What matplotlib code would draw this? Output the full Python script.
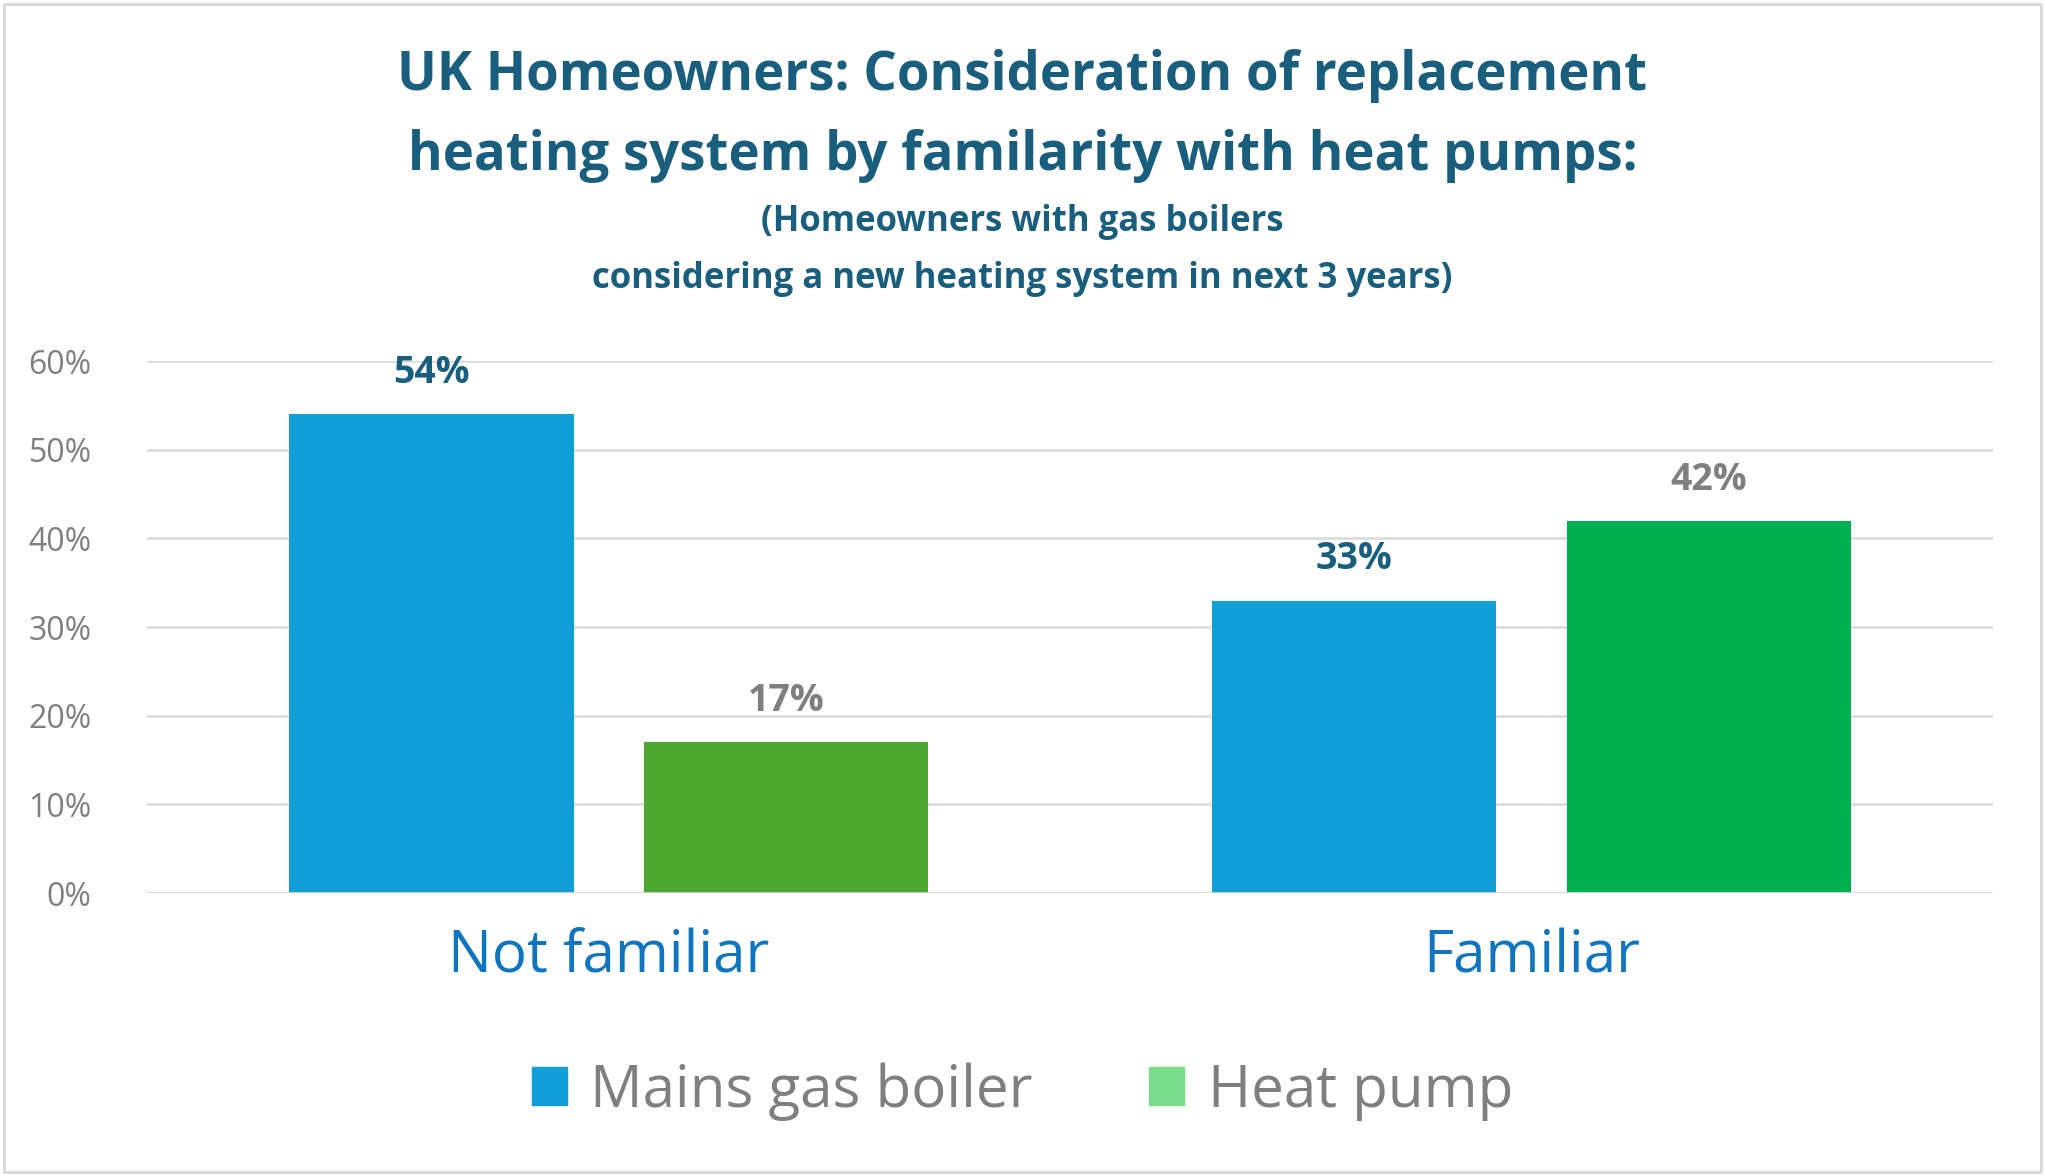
import matplotlib
matplotlib.use("Agg")
import matplotlib.pyplot as plt
from matplotlib.patches import Rectangle, Patch

plt.rcParams["font.family"] = "Open Sans"

categories = ["Not familiar", "Familiar"]
series_names = ["Mains gas boiler", "Heat pump"]
gas_boiler = [54, 33]
heat_pump = [17, 42]
yticks = [0, 10, 20, 30, 40, 50, 60]

blue = "#129FD8"
greens = ["#4EA72E", "#00B050"]
legend_green = "#77DD88"
title_col = "#1A5E7E"
gray = "#7F7F7F"

fig = plt.figure(figsize=(20.45, 11.76), dpi=100)
ax = fig.add_axes([0.072, 0.2406, 0.9025, 0.4523])
ax.set_xlim(-0.5, 1.5)
ax.set_ylim(0, 60)

w = 0.308
off = 0.192
for i in range(len(categories)):
    ax.bar(i - off, gas_boiler[i], w, color=blue, zorder=3)
    ax.bar(i + off, heat_pump[i], w, color=greens[i], zorder=3)
    ax.text(i - off, gas_boiler[i] + 2.5, f"{gas_boiler[i]}%", ha="center", va="bottom",
            fontsize=27, fontweight="bold", color=title_col)
    ax.text(i + off, heat_pump[i] + 2.5, f"{heat_pump[i]}%", ha="center", va="bottom",
            fontsize=27, fontweight="bold", color=gray)

ax.set_yticks(yticks)
ax.set_yticklabels([f"{t}%" for t in yticks], fontsize=23, color=gray)
ax.yaxis.grid(True, color="#D9D9D9", linewidth=1.8, zorder=0)
ax.set_xticks(range(len(categories)))
ax.set_xticklabels(categories, fontsize=42, color="#0F75C0")
ax.tick_params(length=0, axis="both")
ax.tick_params(axis="x", pad=25)
ax.tick_params(axis="y", pad=40)
for s in ax.spines.values():
    s.set_visible(False)
ax.axhline(0, color="#D9D9D9", linewidth=2, zorder=4)

fig.text(0.5, 0.935, "UK Homeowners: Consideration of replacement", ha="center", va="center",
         fontsize=38, fontweight="bold", color=title_col)
fig.text(0.5, 0.867, "heating system by familarity with heat pumps:", ha="center", va="center",
         fontsize=38, fontweight="bold", color=title_col)
fig.text(0.5, 0.811, "(Homeowners with gas boilers", ha="center", va="center",
         fontsize=25, fontweight="bold", color=title_col)
fig.text(0.5, 0.763, "considering a new heating system in next 3 years)", ha="center", va="center",
         fontsize=25, fontweight="bold", color=title_col)

handles = [Patch(color=blue), Patch(color=legend_green)]
fig.legend(handles, series_names, loc="center", bbox_to_anchor=(0.5, 0.072), ncol=2,
           frameon=False, fontsize=42, labelcolor=gray, handlelength=0.6, handleheight=0.6,
           columnspacing=2.0, handletextpad=0.4)

fig.add_artist(Rectangle((0.002, 0.003), 0.996, 0.994, transform=fig.transFigure,
                         fill=False, edgecolor="#D9D9D9", linewidth=2))

fig.savefig("out.png", dpi=100)
